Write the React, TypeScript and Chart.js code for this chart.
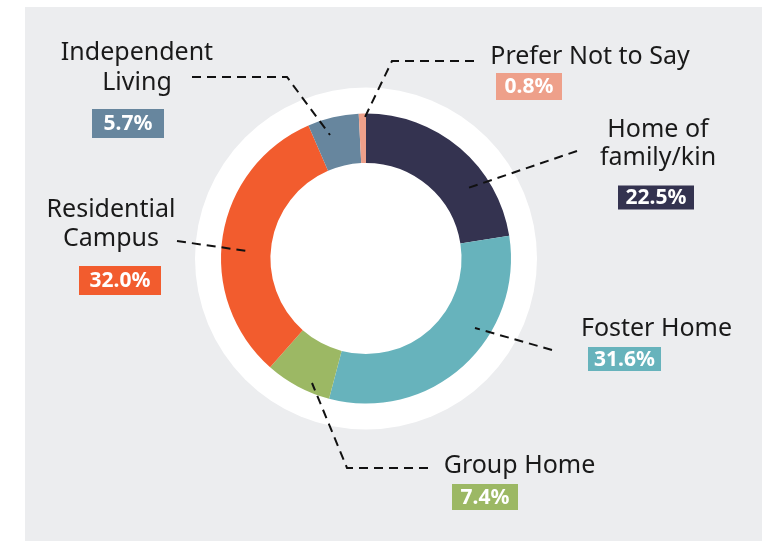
import React, { useEffect, useRef } from "react";
import { Chart, registerables } from "chart.js";

Chart.register(...registerables);

const categories = [
  "Home of family/kin",
  "Foster Home",
  "Group Home",
  "Residential Campus",
  "Independent Living",
  "Prefer Not to Say",
];
const values = [22.5, 31.6, 7.4, 32.0, 5.7, 0.8];
const percentLabels = ["22.5%", "31.6%", "7.4%", "32.0%", "5.7%", "0.8%"];
const labelLines = [
  ["Home of", "family/kin"],
  ["Foster Home"],
  ["Group Home"],
  ["Residential", "Campus"],
  ["Independent", "Living"],
  ["Prefer Not to Say"],
];
const colors = ["#343350", "#67B3BC", "#9CB864", "#F25C2E", "#67869E", "#EEA08A"];

// Annotation layout, relative to the doughnut centre (pixels)
type Pt = [number, number];
const layout: {
  tx: number;
  ty: number[];
  bx: number;
  by: number;
  bw: number;
  bh: number;
  leader: Pt[];
}[] = [
  { tx: 292, ty: [-122, -93.5], bx: 290, by: -61, bw: 76, bh: 24, leader: [[211, -107.5], [102, -70.5]] },
  { tx: 290.5, ty: [77.5], bx: 258.5, by: 100.5, bw: 73, bh: 24, leader: [[186, 91.5], [109, 69.5]] },
  { tx: 153.5, ty: [214.5], bx: 119, by: 238.5, bw: 66, bh: 26, leader: [[62, 209.5], [-19, 209.5], [-54, 124.5]] },
  { tx: -255, ty: [-41.5, -12.5], bx: -246, by: 22, bw: 82, bh: 29, leader: [[-189, -17.5], [-119, -7.5]] },
  { tx: -229, ty: [-198.5, -168.5], bx: -238, by: -135, bw: 72, bh: 29, leader: [[-174, -181.5], [-79, -181.5], [-36, -123.5]] },
  { tx: 224, ty: [-194.5], bx: 163, by: -172, bw: 66, bh: 27, leader: [[108, -197.5], [26, -197.5], [-1, -141.5]] },
];

const LABEL_FONT = '25px "Noto Sans", sans-serif';
const PCT_FONT = 'bold 21px "Noto Sans", sans-serif';

const haloPlugin = {
  id: "halo",
  beforeDatasetsDraw(chart: any) {
    const arc = chart.getDatasetMeta(0).data[0];
    if (!arc) return;
    const { x, y, outerRadius } = arc.getProps(["x", "y", "outerRadius"], true);
    const ctx = chart.ctx;
    ctx.save();
    ctx.beginPath();
    ctx.arc(x, y, outerRadius + 26, 0, Math.PI * 2);
    ctx.fillStyle = "#ffffff";
    ctx.fill();
    ctx.restore();
  },
};

const calloutPlugin = {
  id: "callouts",
  afterDatasetsDraw(chart: any) {
    const arc = chart.getDatasetMeta(0).data[0];
    if (!arc) return;
    const { x: cx, y: cy } = arc.getProps(["x", "y"], true);
    const ctx = chart.ctx;
    ctx.save();
    // leader lines
    ctx.strokeStyle = "#111111";
    ctx.lineWidth = 2;
    ctx.setLineDash([9, 6]);
    layout.forEach((l) => {
      ctx.beginPath();
      l.leader.forEach((p, i) => {
        if (i === 0) ctx.moveTo(cx + p[0], cy + p[1]);
        else ctx.lineTo(cx + p[0], cy + p[1]);
      });
      ctx.stroke();
    });
    ctx.setLineDash([]);
    // text labels
    ctx.textAlign = "center";
    ctx.textBaseline = "alphabetic";
    layout.forEach((l, i) => {
      ctx.font = LABEL_FONT;
      ctx.fillStyle = "#1a1a1a";
      labelLines[i].forEach((line, j) => {
        ctx.fillText(line, cx + l.tx, cy + l.ty[j]);
      });
      // percent box
      ctx.fillStyle = colors[i];
      ctx.fillRect(cx + l.bx - l.bw / 2, cy + l.by - l.bh / 2, l.bw, l.bh);
      ctx.font = PCT_FONT;
      ctx.fillStyle = "#ffffff";
      ctx.textBaseline = "middle";
      ctx.fillText(percentLabels[i], cx + l.bx, cy + l.by + 1);
      ctx.textBaseline = "alphabetic";
    });
    ctx.restore();
  },
};

export default function App() {
  const canvasRef = useRef<HTMLCanvasElement | null>(null);

  useEffect(() => {
    if (!canvasRef.current) return;
    const chart = new Chart(canvasRef.current, {
      type: "doughnut",
      data: {
        labels: categories,
        datasets: [
          {
            data: values,
            backgroundColor: colors,
            borderWidth: 0,
          },
        ],
      },
      options: {
        responsive: false,
        animation: false,
        cutout: "65.9%",
        layout: { padding: { left: 221, right: 270, top: 113.5, bottom: 137.5 } },
        plugins: {
          legend: { display: false },
          tooltip: { enabled: false },
          title: { display: false },
        },
      },
      plugins: [haloPlugin, calloutPlugin],
    });
    return () => chart.destroy();
  }, []);

  return (
    <div style={{ position: "absolute", left: 0, top: 0, width: 781, height: 541 }}>
      <div
        style={{
          position: "absolute",
          left: 25,
          top: 7,
          width: 737,
          height: 534,
          background: "#ECEDEF",
        }}
      />
      <canvas
        ref={canvasRef}
        width={781}
        height={541}
        style={{ position: "absolute", left: 0, top: 0, width: 781, height: 541 }}
      />
    </div>
  );
}
